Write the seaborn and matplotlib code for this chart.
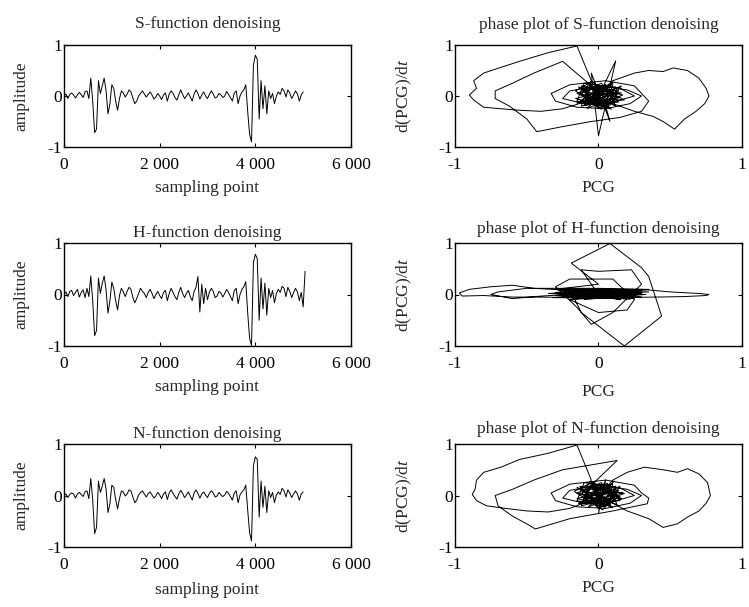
import numpy as np
import pandas as pd
import matplotlib
matplotlib.use("Agg")
import matplotlib.pyplot as plt
import seaborn as sns

# ---------------- data ----------------
step = 40  # sampling interval between listed values
s_amp = [0.0, 0.04, -0.05, 0.03, 0.06, 0.02, -0.04, 0.02, 0.07, 0.03,
         -0.03, 0.08, 0.1, -0.05, 0.35, -0.1, -0.72, -0.65, 0.3, 0.05,
         0.2, 0.35, 0.1, -0.35, -0.15, 0.22, 0.15, -0.1, -0.28, -0.05,
         0.1, 0.06, -0.02, 0.04, 0.12, 0.08, -0.04, -0.15, -0.1, 0.0,
         0.05, 0.1, 0.04, -0.02, 0.03, 0.08, 0.02, -0.06, -0.02, 0.05,
         0.0, -0.07, 0.02, 0.06, -0.1, 0.04, 0.1, 0.05, -0.03, -0.08,
         0.02, 0.12, 0.03, -0.05, 0.0, 0.06, -0.02, -0.1, 0.04, 0.12,
         0.05, -0.06, 0.02, 0.08, 0.0, -0.05, 0.03, 0.1, 0.04, -0.04,
         -0.02, 0.05, 0.02, -0.03, 0.0, 0.09, 0.03, -0.03, -0.1, 0.06,
         0.1, -0.15, 0.0, 0.08, 0.12, 0.22, -0.3, -0.75, -0.9, 0.6,
         0.8, 0.72, -0.45, 0.3, -0.25, 0.2, -0.35, 0.1, -0.05, 0.05,
         -0.15, 0.0, 0.08, 0.03, 0.15, 0.1, -0.02, 0.12, 0.06, -0.05,
         0.02, 0.1, 0.04, -0.1, 0.02, 0.08]

h_amp = [0.0, 0.05, -0.04, 0.06, 0.08, -0.02, 0.04, 0.1, -0.05, 0.04,
         0.09, -0.06, 0.12, -0.04, 0.36, -0.12, -0.8, -0.7, 0.32, 0.02,
         0.22, 0.36, 0.08, -0.36, -0.12, 0.24, 0.12, -0.12, -0.3, -0.02,
         0.12, 0.05, -0.04, 0.06, 0.14, 0.1, -0.06, -0.16, -0.08, 0.02,
         0.12, 0.06, 0.02, -0.06, 0.04, 0.1, 0.02, -0.08, 0.0, 0.06,
         -0.02, -0.08, 0.04, 0.08, -0.12, 0.02, 0.12, 0.04, -0.04, -0.1,
         0.04, 0.14, 0.02, -0.06, 0.02, 0.08, -0.04, -0.12, 0.06, 0.14,
         0.35, -0.34, 0.2, -0.18, 0.12, -0.1, 0.05, 0.12, 0.06, -0.06,
         -0.03, 0.06, 0.03, -0.05, 0.02, 0.1, 0.04, -0.04, -0.12, 0.08,
         0.12, -0.18, 0.0, 0.1, 0.15, 0.25, -0.35, -0.85, -0.99, 0.62,
         0.78, 0.7, -0.5, 0.32, -0.28, 0.22, -0.4, 0.12, -0.06, 0.08,
         -0.16, 0.02, 0.1, 0.04, 0.16, 0.12, -0.04, 0.14, 0.06, -0.06,
         0.04, 0.12, 0.05, -0.12, 0.04, -0.24, 0.45]

n_amp = [0.0, 0.03, -0.04, 0.02, 0.05, 0.03, -0.05, 0.03, 0.06, 0.02,
         -0.02, 0.07, 0.09, -0.06, 0.33, -0.08, -0.74, -0.62, 0.28, 0.06,
         0.18, 0.33, 0.12, -0.33, -0.16, 0.2, 0.16, -0.08, -0.26, -0.06,
         0.09, 0.07, -0.01, 0.03, 0.11, 0.09, -0.03, -0.14, -0.09, 0.01,
         0.06, 0.09, 0.03, -0.03, 0.04, 0.07, 0.01, -0.05, -0.01, 0.06,
         0.01, -0.06, 0.03, 0.07, -0.08, 0.05, 0.11, 0.04, -0.02, -0.07,
         0.03, 0.1, 0.04, -0.04, 0.01, 0.07, -0.01, -0.09, 0.05, 0.11,
         0.04, -0.05, 0.03, 0.07, 0.01, -0.04, 0.04, 0.09, 0.05, -0.03,
         -0.01, 0.06, 0.01, -0.02, 0.01, 0.08, 0.04, -0.02, -0.09, 0.05,
         0.09, -0.14, 0.01, 0.07, 0.11, 0.2, -0.28, -0.72, -0.88, 0.58,
         0.75, 0.7, -0.42, 0.28, -0.23, 0.18, -0.33, 0.09, -0.04, 0.06,
         -0.14, 0.01, 0.07, 0.02, 0.14, 0.09, -0.03, 0.11, 0.05, -0.04,
         0.03, 0.09, 0.03, -0.09, 0.03, 0.07]

s_pcg = [0.0, 0.05, -0.05, 0.08, -0.1, 0.1, -0.06, 0.03, 0.12, -0.12,
         -0.05, -0.15, -0.35, -0.55, -0.66, -0.8, -0.87, -0.85, -0.9, -0.87,
         -0.8, -0.68, -0.55, -0.4, -0.25, -0.1, 0.0,
         0.12, 0.0, -0.05, 0.08, 0.02,
         0.1, 0.25, 0.35, 0.45, 0.52, 0.62, 0.7, 0.75, 0.77, 0.74,
         0.68, 0.6, 0.53, 0.45, 0.38, 0.25, 0.1, 0.0,
         -0.05, -0.25, -0.45, -0.6, -0.72, -0.72, -0.62, -0.5, -0.43, -0.25,
         -0.05, 0.15, 0.3, 0.35, 0.3,
         0.25, 0.05, -0.2, -0.33, -0.3, -0.15, 0.05, 0.22, 0.3, 0.2,
         0.0, -0.2, -0.25, -0.1, 0.1, 0.25,
         0.15, -0.1, -0.15, 0.05, 0.12, -0.08, -0.12, 0.1, 0.02, -0.15,
         0.08, 0.14, -0.05, -0.1, 0.06, 0.1, -0.12, 0.0, 0.15, -0.06,
         0.04, -0.08,
         0.18, -0.05, -0.16, 0.02, 0.16, -0.1, 0.05, 0.12, -0.14, -0.02,
         0.1, -0.08, 0.17, -0.12, 0.0, 0.08, -0.16, 0.06, 0.13, -0.06,
         -0.1, 0.14, 0.03, -0.13, 0.09, -0.04, 0.16, -0.15, 0.05, 0.0]
s_dpcg = [0.0, 0.1, 0.15, -0.1, -0.05, 0.08, 0.2, -0.18, 0.05, 0.02,
          0.3, 0.98, 0.85, 0.68, 0.58, 0.45, 0.3, 0.15, 0.02, -0.08,
          -0.22, -0.25, -0.28, -0.3, -0.25, -0.12, 0.0,
          0.69, -0.78, 0.45, -0.5, 0.1,
          0.3, 0.45, 0.5, 0.48, 0.55, 0.5, 0.35, 0.15, 0.0, -0.15,
          -0.3, -0.45, -0.65, -0.5, -0.4, -0.3, -0.15, -0.02,
          0.2, 0.68, 0.45, 0.25, 0.1, -0.05, -0.2, -0.45, -0.7, -0.6,
          -0.5, -0.42, -0.3, -0.1, 0.05,
          0.2, 0.3, 0.22, 0.05, -0.1, -0.22, -0.25, -0.15, 0.0, 0.12,
          0.2, 0.1, -0.05, -0.15, -0.12, 0.0,
          0.15, 0.25, -0.1, -0.22, 0.18, 0.12, -0.2, -0.05, 0.25, 0.05,
          -0.18, 0.1, 0.18, -0.12, -0.1, 0.22, 0.15, -0.25, -0.02, 0.05,
          0.15, -0.06,
          -0.08, 0.28, 0.1, -0.26, 0.2, -0.15, 0.22, -0.2, 0.18, -0.08,
          0.26, -0.24, 0.02, 0.2, -0.2, 0.12, -0.05, -0.22, 0.15, 0.24,
          -0.18, -0.12, 0.2, 0.05, -0.26, 0.1, 0.06, -0.14, 0.22, 0.0]

h_pcg = [0.0, 0.1, -0.1, 0.2, -0.2, -0.45, -0.6, -0.75, -0.9, -0.97,
         -0.95, -0.8, -0.6, -0.4, -0.2, 0.1, 0.4, 0.6, 0.75, 0.77,
         0.7, 0.5, 0.3, 0.0, -0.3, -0.5, -0.7, -0.75, -0.6, -0.4,
         -0.2, 0.1, 0.35, -0.3, 0.0,
         -0.19, 0.08, 0.3, 0.35, 0.44, 0.18, -0.12, -0.2, 0.0,
         -0.12, 0.0, 0.23, 0.3, 0.1, -0.05, -0.15, -0.3, -0.2, 0.1,
         0.25, 0.2, 0.0, -0.2,
         0.25, -0.25, 0.3, -0.15, 0.2, -0.3, 0.1, -0.1, 0.28, -0.22,
         0.15, -0.05, 0.22, -0.28, 0.05, 0.18, -0.18, 0.3, -0.1,
         0.3, -0.32, 0.25, -0.28, 0.33, -0.2, 0.18, -0.35, 0.28, -0.12,
         0.22, -0.3, 0.35, -0.25, 0.1, -0.18, 0.3, -0.08, 0.15, 0.0]
h_dpcg = [0.0, 0.05, -0.03, 0.02, 0.08, 0.12, 0.18, 0.15, 0.1, 0.03,
          -0.03, -0.02, -0.05, -0.05, -0.06, -0.06, -0.05, -0.04, -0.02, 0.0,
          0.02, 0.05, 0.1, 0.12, 0.12, 0.12, 0.05, 0.0, -0.08, -0.03,
          0.0, 0.0, 0.1, 0.1, 0.2,
          0.61, 0.99, 0.52, 0.35, -0.42, -1.0, -0.35, 0.1, 0.0,
          0.48, 0.45, 0.48, 0.2, -0.35, -0.58, -0.25, 0.15, 0.3, 0.3,
          -0.1, -0.3, -0.35, -0.1,
          0.06, -0.05, 0.02, 0.1, -0.08, 0.04, 0.1, -0.1, 0.0, 0.06,
          -0.1, 0.08, -0.04, 0.02, -0.08, 0.1, 0.03, -0.05, 0.08,
          0.04, -0.06, -0.08, 0.08, 0.0, -0.1, 0.09, 0.02, -0.05, 0.07,
          -0.09, -0.02, 0.05, 0.1, -0.07, -0.04, 0.08, 0.06, -0.1, 0.0]

n_pcg = [0.0, 0.05, -0.05, 0.08, -0.1, 0.1, -0.06, 0.03, 0.12, -0.12,
         -0.05, -0.15, -0.35, -0.55, -0.68, -0.8, -0.85, -0.86, -0.88, -0.85,
         -0.78, -0.65, -0.5, -0.35, -0.2, -0.08, 0.0,
         0.05, 0.0, 0.02,
         0.1, 0.2, 0.32, 0.45, 0.55, 0.62, 0.7, 0.76, 0.78, 0.75,
         0.7, 0.62, 0.55, 0.45, 0.35, 0.2, 0.1, 0.0,
         -0.05, 0.13, -0.25, -0.45, -0.6, -0.72, -0.7, -0.6, -0.5, -0.44,
         -0.2, 0.1, 0.34, 0.35, 0.3,
         0.25, 0.05, -0.2, -0.33, -0.3, -0.15, 0.05, 0.22, 0.3, 0.2,
         0.0, -0.2, -0.25, -0.1, 0.1, 0.25,
         0.15, -0.1, -0.15, 0.05, 0.12, -0.08, -0.12, 0.1, 0.02, -0.15,
         0.08, 0.14, -0.05, -0.1, 0.06, 0.1, -0.12, 0.0, 0.15, -0.06,
         0.04, -0.08,
         0.16, -0.04, -0.17, 0.03, 0.15, -0.11, 0.06, 0.13, -0.15, -0.01,
         0.11, -0.07, 0.18, -0.13, 0.01, 0.09, -0.15, 0.07, 0.12, -0.05,
         -0.11, 0.15, 0.02, -0.12, 0.1, -0.03, 0.17, -0.14, 0.04, 0.0]
n_dpcg = [0.0, 0.1, 0.15, -0.1, -0.05, 0.08, 0.2, -0.18, 0.05, 0.02,
          0.3, 0.98, 0.82, 0.7, 0.55, 0.45, 0.3, 0.12, 0.02, -0.1,
          -0.2, -0.25, -0.3, -0.32, -0.25, -0.12, 0.0,
          0.3, -0.35, 0.05,
          0.3, 0.45, 0.55, 0.5, 0.45, 0.52, 0.42, 0.25, 0.0, -0.15,
          -0.3, -0.42, -0.55, -0.62, -0.45, -0.3, -0.15, -0.02,
          0.2, 0.68, 0.5, 0.3, 0.12, 0.0, -0.2, -0.4, -0.55, -0.65,
          -0.45, -0.3, -0.16, -0.05, 0.05,
          0.2, 0.3, 0.22, 0.05, -0.1, -0.22, -0.25, -0.15, 0.0, 0.12,
          0.2, 0.1, -0.05, -0.15, -0.12, 0.0,
          0.15, 0.25, -0.1, -0.22, 0.18, 0.12, -0.2, -0.05, 0.25, 0.05,
          -0.18, 0.1, 0.18, -0.12, -0.1, 0.22, 0.15, -0.25, -0.02, 0.05,
          0.15, -0.06,
          -0.06, 0.26, 0.08, -0.28, 0.18, -0.16, 0.24, -0.18, 0.16, -0.1,
          0.28, -0.22, 0.04, 0.18, -0.22, 0.1, -0.06, -0.2, 0.14, 0.22,
          -0.16, -0.1, 0.22, 0.04, -0.24, 0.12, 0.05, -0.16, 0.2, 0.0]

time_titles = ["S-function denoising", "H-function denoising", "N-function denoising"]
phase_titles = ["phase plot of S-function denoising", "phase plot of H-function denoising",
                "phase plot of N-function denoising"]
time_xticks = [0, 2000, 4000, 6000]
time_xticklabels = ["0", "2 000", "4 000", "6 000"]
amp_ticks = [-1, 0, 1]
amp_ticklabels = ["-1", "0", "1"]

# ---------------- style ----------------
sns.set_theme(style="white")
plt.rcParams["font.family"] = ["Liberation Serif", "DejaVu Serif"]
plt.rcParams["mathtext.fontset"] = "custom"
plt.rcParams["mathtext.rm"] = "Liberation Serif"
plt.rcParams["mathtext.it"] = "Liberation Serif:italic"
plt.rcParams["axes.unicode_minus"] = False
FS = 12.5

fig = plt.figure(figsize=(7.49, 6.07), dpi=100)
W, H = 749, 607

def add_ax(left, top, right, bottom):
    return fig.add_axes([left / W, 1 - bottom / H, (right - left) / W, (bottom - top) / H])

rows = [(45, 147), (243, 346), (444, 547)]
time_data = [s_amp, h_amp, n_amp]
phase_data = [(s_pcg, s_dpcg), (h_pcg, h_dpcg), (n_pcg, n_dpcg)]
lt_pads = [12, 4.5, 4.5]
rt_pads = [11.5, 7, 8]

def style_ax(ax):
    for sp in ax.spines.values():
        sp.set_visible(True)
        sp.set_color("black")
        sp.set_linewidth(1.0)
    ax.tick_params(direction="in", length=3, width=0.8, top=True, right=True,
                   bottom=True, left=True, labelsize=FS, colors="black")
    ax.tick_params(axis="y", pad=1.5)
    ax.tick_params(axis="x", pad=7)
    ax.set_facecolor("white")

for r, (top, bot) in enumerate(rows):
    # time series
    ax = add_ax(64, top, 351, bot)
    y = time_data[r]
    df = pd.DataFrame({"x": np.arange(len(y)) * step, "y": y})
    sns.lineplot(data=df, x="x", y="y", ax=ax, color="black", linewidth=0.7,
                 sort=False, estimator=None)
    ax.set_xlim(0, 6000)
    ax.set_ylim(-1, 1)
    ax.set_xticks(time_xticks)
    ax.set_xticklabels(time_xticklabels)
    ax.set_yticks(amp_ticks)
    ax.set_yticklabels(amp_ticklabels)
    style_ax(ax)
    ax.set_title(time_titles[r], fontsize=FS, pad=lt_pads[r])
    ax.set_xlabel("sampling point", fontsize=FS)
    ax.set_ylabel("amplitude", fontsize=FS)
    ax.yaxis.set_label_coords(-0.122, 0.5)
    ax.xaxis.set_label_coords(0.5, -0.32 if r < 2 else -0.34)

    # phase plot
    ax2 = add_ax(455, top, 742, bot)
    px, py = phase_data[r]
    dfp = pd.DataFrame({"x": px, "y": py})
    sns.lineplot(data=dfp, x="x", y="y", ax=ax2, color="black", linewidth=0.7,
                 sort=False, estimator=None)
    ax2.set_xlim(-1, 1)
    ax2.set_ylim(-1, 1)
    ax2.set_xticks(amp_ticks)
    ax2.set_xticklabels(amp_ticklabels)
    ax2.set_yticks(amp_ticks)
    ax2.set_yticklabels(amp_ticklabels)
    style_ax(ax2)
    ax2.set_title(phase_titles[r], fontsize=FS, pad=rt_pads[r])
    ax2.set_xlabel("PCG", fontsize=FS)
    ax2.set_ylabel(r"d(PCG)/d$t$", fontsize=FS)
    ax2.yaxis.set_label_coords(-0.143, 0.5)
    ax2.xaxis.set_label_coords(0.5, -0.32 if r != 1 else -0.37)

fig.savefig("out.png", dpi=100, facecolor="white")
